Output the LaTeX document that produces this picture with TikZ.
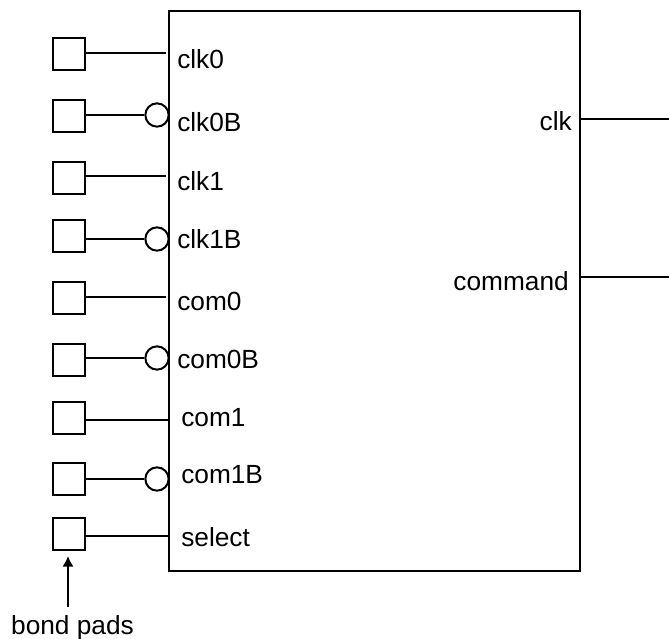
\documentclass[tikz,border=0pt]{standalone}
\usepackage{fontspec}
\setmainfont{Liberation Sans}
\usetikzlibrary{
	arrows.meta,
	positioning,
}
\tikzset{pad node/.style={
	draw,
	rectangle,
	inner sep=0mm,
	minimum size=24pt,
	line width=1.5pt,
}}
\tikzset{chip node/.style={
	draw,
	rectangle,
	inner sep=0mm,
	minimum width=308pt,
	minimum height=420pt,
	line width=1.5pt,
}}
\tikzset{bubble node/.style={
	draw,
	circle,
	inner sep=0mm,
	minimum size=17.5pt,
	line width=1.5pt,
}}
\tikzset{pin label/.style={
	inner sep=0mm,
	font=\fontsize{19.7}{22}\selectfont,
}}
\tikzset{wire/.style={line width=1.5pt}}

\begin{document}
\begin{tikzpicture}[x=0.75pt,y=-0.75pt]
\useasboundingbox (0,0) rectangle (669,639);

\node[chip node](chip) at(374.5,291) {};

\foreach[count=\i] \y in {53.5,115.5,177.5,235.5,297.5,359.5,417.5,479,533.5}{
	\node[pad node](pad\i) at(69,\y) {};
}

% plain inputs
\foreach \i/\y/\e in {1/53/166,3/176/166,5/297/166,7/420/169,9/536/169}{
	\coordinate(pin\i) at(\e,\y);
	\draw[wire] (pad\i.east |- pin\i) -- (pin\i);
}

% inverted inputs
\foreach \i/\y in {2/115,4/239,6/358,8/479}{
	\node[bubble node](bub\i) at(157,\y) {};
	\draw[wire] (pad\i.east |- bub\i) -- (bub\i);
}

\foreach \t/\x/\y in {clk0/177/69,clk0B/177/131,clk1/177/190,clk1B/177/248,com0/177/310,com0B/177/368,com1/181/426,com1B/181/483,select/181/546}{
	\node[pin label,anchor=base west](lab\t) at(\x,\y) {\t};
}

% outputs
\coordinate(clkout) at(669,119);
\coordinate(cmdout) at(669,277);
\draw[wire] (chip.east |- clkout) -- (clkout);
\draw[wire] (chip.east |- cmdout) -- (cmdout);
\node[pin label,anchor=base east](labclk) at(572,130) {clk};
\node[pin label,anchor=base east](labcmd) at(569,290) {command};

\node[pin label,anchor=base](bond) at(72.5,634) {bond pads};
\coordinate(arrowtip) at(68,556);
\coordinate(arrowtail) at(68,607);
\draw[wire,-{Latex[length=8pt,width=8.5pt]}] (arrowtail) -- (arrowtip);
\end{tikzpicture}
\end{document}
